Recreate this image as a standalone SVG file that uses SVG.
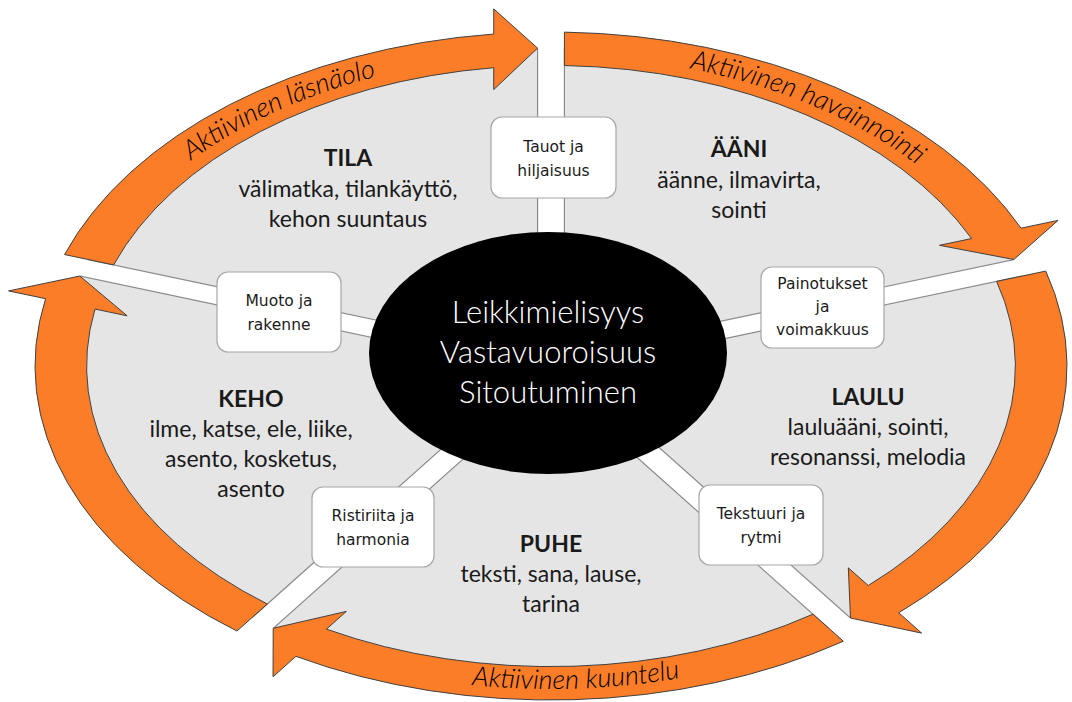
<svg xmlns="http://www.w3.org/2000/svg" xmlns:xlink="http://www.w3.org/1999/xlink" width="1072" height="702" viewBox="0 0 1072 702">
<style>
.wedge{fill:#e5e5e5;stroke:#8a8a8a;stroke-width:1.2}
.band{fill:#fb7d27;stroke:#404040;stroke-width:1}
.box{fill:#ffffff;stroke:#a6a6a6;stroke-width:1.2}
.bt{font-family:"DejaVu Sans",sans-serif;font-size:15.5px;fill:#1a1a1a;text-anchor:middle}
.st{font-family:Lato,"Liberation Sans",sans-serif;font-size:23px;fill:#1a1a1a;text-anchor:middle}
.sh{font-weight:bold}
.ct{font-family:Lato,"Liberation Sans",sans-serif;font-weight:300;font-size:31px;fill:#ffffff;text-anchor:middle}
.at{font-family:Lato,"Liberation Sans",sans-serif;font-style:italic;font-weight:300;font-size:27px;fill:#000000;text-anchor:middle}
</style>
<defs>
<path id="wedge" class="wedge" vector-effect="non-scaling-stroke" d="M0,-0.04423 L-0.53716,-0.78356 A0.95,0.95 0 0 1 0.53716,-0.78356 Z"/>
<path id="band" class="band" vector-effect="non-scaling-stroke" d="M-0.56656,-0.82402 A1,1 0 0 1 0.49436,-0.86927 L0.53869,-0.93029 L0.53834,-0.78518 L0.39665,-0.73478 L0.43517,-0.78780 A0.9,0.9 0 0 0 -0.50776,-0.74309 Z"/>
<path id="tp1" d="M139.6,206.0 A479.9,310.6 0 0 1 443.9,63.2"/>
<path id="tp2" d="M622.8,58.9 A479.9,310.6 0 0 1 966.6,210.7"/>
<path id="tp3" d="M405.1,674.9 A499,323 0 0 0 746.0,663.3"/>
</defs>
<rect width="1072" height="702" fill="#ffffff"/>

<g id="seg-tila">
<use href="#wedge" transform="translate(551 366) scale(516 334) rotate(-36)"/>
<text class="st sh" x="348" y="166">TILA</text>
<text class="st" x="348" y="197">välimatka, tilankäyttö,</text>
<text class="st" x="348" y="227">kehon suuntaus</text>
</g>
<g id="seg-aani">
<use href="#wedge" transform="translate(551 366) scale(516 334) rotate(36)"/>
<text class="st sh" x="739" y="157">ÄÄNI</text>
<text class="st" x="739" y="188">äänne, ilmavirta,</text>
<text class="st" x="739" y="218">sointi</text>
</g>
<g id="seg-laulu">
<use href="#wedge" transform="translate(551 366) scale(516 334) rotate(108)"/>
<text class="st sh" x="868" y="405">LAULU</text>
<text class="st" x="868" y="435">lauluääni, sointi,</text>
<text class="st" x="868" y="465">resonanssi, melodia</text>
</g>
<g id="seg-puhe">
<use href="#wedge" transform="translate(551 366) scale(516 334) rotate(180)"/>
<text class="st sh" x="551" y="552">PUHE</text>
<text class="st" x="551" y="582">teksti, sana, lause,</text>
<text class="st" x="551" y="612">tarina</text>
</g>
<g id="seg-keho">
<use href="#wedge" transform="translate(551 366) scale(516 334) rotate(252)"/>
<text class="st sh" x="251" y="407">KEHO</text>
<text class="st" x="251" y="437">ilme, katse, ele, liike,</text>
<text class="st" x="251" y="467">asento, kosketus,</text>
<text class="st" x="251" y="497">asento</text>
</g>

<g id="connectors">
<use href="#band" transform="translate(551 366) scale(516 334) rotate(-36)"/>
<use href="#band" transform="translate(551 366) scale(516 334) rotate(36)"/>
<use href="#band" transform="translate(551 366) scale(516 334) rotate(108)"/>
<use href="#band" transform="translate(551 366) scale(516 334) rotate(180)"/>
<use href="#band" transform="translate(551 366) scale(516 334) rotate(252)"/>
<text class="at"><textPath href="#tp1" startOffset="50%">Aktiivinen läsnäolo</textPath></text>
<text class="at"><textPath href="#tp2" startOffset="50%">Aktiivinen havainnointi</textPath></text>
<text class="at"><textPath href="#tp3" startOffset="50%">Aktiivinen kuuntelu</textPath></text>
</g>

<g id="center">
<ellipse cx="548" cy="353" rx="179" ry="121" fill="#000000"/>
<text class="ct" x="548" y="323">Leikkimielisyys</text>
<text class="ct" x="548" y="363">Vastavuoroisuus</text>
<text class="ct" x="548" y="403">Sitoutuminen</text>
</g>

<g id="box-tauot">
<rect class="box" x="491" y="117" width="125" height="81" rx="11"/>
<text class="bt" x="553.5" y="151.5">Tauot ja</text>
<text class="bt" x="553.5" y="175.5">hiljaisuus</text>
</g>
<g id="box-painotukset">
<rect class="box" x="761" y="267" width="123" height="81" rx="11"/>
<text class="bt" x="822.5" y="289">Painotukset</text>
<text class="bt" x="822.5" y="312">ja</text>
<text class="bt" x="822.5" y="335">voimakkuus</text>
</g>
<g id="box-tekstuuri">
<rect class="box" x="699" y="485" width="124" height="80" rx="11"/>
<text class="bt" x="761" y="519">Tekstuuri ja</text>
<text class="bt" x="761" y="543">rytmi</text>
</g>
<g id="box-ristiriita">
<rect class="box" x="312" y="487" width="122" height="80" rx="11"/>
<text class="bt" x="373" y="521">Ristiriita ja</text>
<text class="bt" x="373" y="545">harmonia</text>
</g>
<g id="box-muoto">
<rect class="box" x="217" y="272" width="124" height="80" rx="11"/>
<text class="bt" x="279" y="306">Muoto ja</text>
<text class="bt" x="279" y="330">rakenne</text>
</g>
</svg>
